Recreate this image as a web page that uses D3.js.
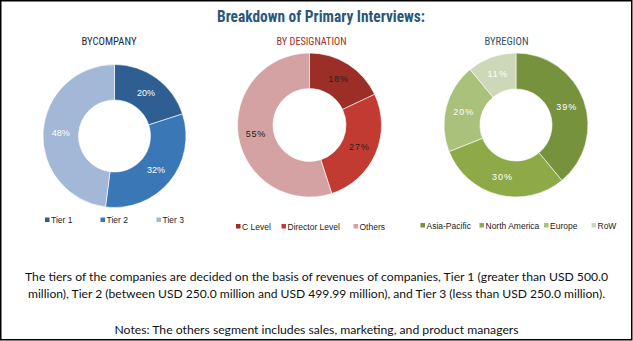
<!DOCTYPE html>
<html><head><meta charset="utf-8">
<script src="https://cdn.jsdelivr.net/npm/d3@7"></script>
<style>html,body{margin:0;padding:0;background:#fff;overflow:hidden}</style>
</head><body>
<svg id="c" width="633" height="341"></svg>
<script>
// ---- data ----
const companyLabels = ["Tier 1", "Tier 2", "Tier 3"];
const companyValues = [20, 32, 48];
const designationLabels = ["C Level", "Director Level", "Others"];
const designationValues = [18, 27, 55];
const regionLabels = ["Asia-Pacific", "North America", "Europe", "RoW"];
const regionValues = [39, 30, 20, 11];

const chartTitle = "Breakdown of Primary Interviews:";
const panelTitles = ["BYCOMPANY", "BY DESIGNATION", "BYREGION"];
const footLine1 = "The tiers of the companies are decided on the basis of revenues of companies, Tier 1 (greater than USD 500.0";
const footLine2 = "million), Tier 2 (between USD 250.0 million and USD 499.99 million), and Tier 3 (less than USD 250.0 million).";
const footNote = "Notes: The others segment includes sales, marketing, and product managers";

// ---- layout / style ----
const panels = [
  {labels: companyLabels, values: companyValues, cx: 114.5, cy: 136, r: 71.5, ir: 36,
   colors: ["#2e5e92", "#3a77b7", "#a3b8d6"], labelColor: "#fff", ls: 0,
   title: panelTitles[0], titleX: 109, titleW: 55, titleColor: "#1f2a40",
   legY: 220, legX: [45, 100.5, 156.5]},
  {labels: designationLabels, values: designationValues, cx: 309.5, cy: 125, r: 72, ir: 36.5,
   colors: ["#9b2f27", "#c23b32", "#d4a2a2"], labelColor: "#222", ls: 0.8,
   title: panelTitles[1], titleX: 311.5, titleW: 70, titleColor: "#a0302a",
   legY: 226.5, legX: [236, 281.5, 353.5]},
  {labels: regionLabels, values: regionValues, cx: 516, cy: 125, r: 72, ir: 36,
   colors: ["#76923c", "#8eaa48", "#aac17b", "#cdd8b8"], labelColor: "#fff", ls: 1,
   title: panelTitles[2], titleX: 506.5, titleW: 44, titleColor: "#2c5668",
   legY: 225.5, legX: [420.5, 479.5, 544, 591.5]}
];

const svg = d3.select("#c");

svg.append("rect").attr("x", 0.75).attr("y", 0.75).attr("width", 631).attr("height", 339)
  .attr("fill", "#fff").attr("stroke", "#000").attr("stroke-width", 1.5);

svg.append("text").text(chartTitle)
  .attr("x", 321).attr("y", 22).attr("text-anchor", "middle")
  .attr("font-family", "'Roboto Condensed','Liberation Sans Narrow','DejaVu Sans Condensed',Roboto,sans-serif")
  .attr("font-weight", "bold").attr("font-size", 17).attr("fill", "#2b5878")
  .attr("textLength", 208).attr("lengthAdjust", "spacingAndGlyphs");

const pie = d3.pie().sort(null).value(d => d);

panels.forEach(p => {
  svg.append("text").text(p.title)
    .attr("x", p.titleX).attr("y", 45).attr("text-anchor", "middle")
    .attr("font-family", "'Liberation Sans Narrow','Roboto Condensed',Roboto,sans-serif")
    .attr("font-size", 10.5).attr("fill", p.titleColor)
    .attr("textLength", p.titleW).attr("lengthAdjust", "spacingAndGlyphs");

  const arc = d3.arc().innerRadius(p.ir).outerRadius(p.r);
  const g = svg.append("g").attr("transform", `translate(${p.cx},${p.cy})`);
  const arcs = pie(p.values);
  g.selectAll("path").data(arcs).join("path")
    .attr("d", arc).attr("fill", (d, i) => p.colors[i])
    .attr("stroke", "#fff").attr("stroke-width", 0.6);
  g.selectAll("text").data(arcs).join("text")
    .attr("transform", d => `translate(${arc.centroid(d)})`)
    .attr("text-anchor", "middle").attr("dy", "0.35em")
    .attr("font-family", "'Liberation Sans',Arial,sans-serif").attr("font-size", 9)
    .attr("letter-spacing", p.ls)
    .attr("fill", p.labelColor)
    .text(d => d.value + "%");

  const leg = svg.append("g");
  p.labels.forEach((lab, i) => {
    leg.append("rect").attr("x", p.legX[i]).attr("y", p.legY - 2.5)
      .attr("width", 4.5).attr("height", 4.5).attr("fill", p.colors[i]);
    leg.append("text").text(lab)
      .attr("x", p.legX[i] + 6).attr("y", p.legY + 3)
      .attr("font-family", "'Liberation Sans',Arial,sans-serif").attr("font-size", 8.5)
      .attr("fill", "#222");
  });
});

const foot = [
  {t: footLine1, y: 281, w: 583},
  {t: footLine2, y: 298, w: 577},
  {t: footNote, y: 333.5, w: 404}
];
foot.forEach(f => {
  svg.append("text").text(f.t)
    .attr("x", 316.5).attr("y", f.y).attr("text-anchor", "middle")
    .attr("font-family", "Lato,'Open Sans',sans-serif").attr("font-size", 12)
    .attr("fill", "#111")
    .attr("textLength", f.w).attr("lengthAdjust", "spacingAndGlyphs");
});
</script>
</body></html>
